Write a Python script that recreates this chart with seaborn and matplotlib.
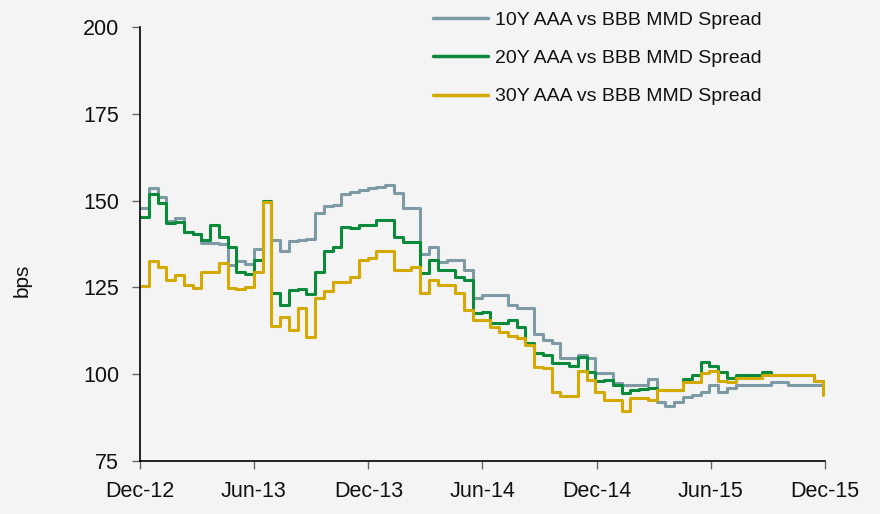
import numpy as np
import pandas as pd
import matplotlib
matplotlib.use("Agg")
import matplotlib.pyplot as plt
import matplotlib.dates as mdates
import seaborn as sns

# ---- data (bi-weekly samples) ----
start_date = "2012-12-01"
n_points = 79
series_names = ["10Y AAA vs BBB MMD Spread",
                "20Y AAA vs BBB MMD Spread",
                "30Y AAA vs BBB MMD Spread"]

spread_10y = [148, 153.7, 151, 144, 145, 141, 140.5, 137.8, 137.8, 137.5,
              131.4, 132.5, 131.8, 136, 149.5, 138.7, 135.5, 138.5, 138.7, 139,
              146.5, 148.5, 148.7, 152, 152.5, 153, 153.6, 154, 154.5, 152.2,
              148, 147.9, 134.5, 136.5, 132.3, 132.9, 132.9, 130, 122, 122.8,
              122.8, 122.8, 120, 119, 119, 111.5, 109.8, 109, 104.7, 104.7,
              105.5, 104.7, 100.3, 100.3, 97.5, 97, 97, 97, 98.5, 92,
              90.8, 92, 93.5, 94, 95, 97, 94.9, 96, 97, 97,
              97, 97, 97.8, 97.8, 97, 97, 97, 97, 95.5]

spread_20y = [145.3, 152, 149.3, 143.5, 143.8, 141, 140.5, 138.7, 143, 139.5,
              136.7, 129.4, 129, 133, 150, 123.4, 120, 124.3, 124.5, 123,
              129.5, 135.5, 136.5, 142.4, 142, 143, 143, 144.4, 144.4, 139.5,
              138, 138, 129.2, 132.9, 130, 130, 128, 127, 117.5, 117.8,
              114.7, 114.7, 115.6, 113.6, 109, 106, 105.5, 103.2, 103.2, 102.5,
              105, 100.5, 98, 98.3, 97, 94.6, 95.4, 95.8, 96, 95.4,
              95.4, 95.4, 98.5, 99.8, 103.5, 102.4, 100.6, 98.9, 99.8, 99.8,
              99.8, 100.6, 99.8, 99.8, 99.8, 99.8, 99.8, 98, 96.6]

spread_30y = [125.5, 132.5, 130.9, 127.1, 128.6, 125.7, 124.8, 129.4, 129.4, 132,
              124.8, 124.5, 125, 129.4, 149.6, 114, 116.5, 112.7, 119, 110.7,
              122, 124, 126.6, 126.6, 128, 133, 133.5, 135.5, 135.5, 130,
              130, 130.9, 123.4, 127, 125.7, 125.7, 123.4, 118.5, 115.6, 115.6,
              113.5, 112.2, 111, 110.4, 108.4, 102, 101.7, 94.9, 93.7, 93.7,
              101, 98.3, 94.9, 92.6, 92.6, 89.5, 93.1, 93.1, 92.6, 95.4,
              95.4, 95.4, 97.8, 97.8, 100.3, 101, 98, 97.8, 98.9, 98.9,
              98.9, 99.8, 99.8, 99.8, 99.8, 99.8, 99.8, 98, 94]

tick_dates = ["2012-12-01", "2013-06-01", "2013-12-01", "2014-06-01",
              "2014-12-01", "2015-06-01", "2015-12-01"]
tick_labels = ["Dec-12", "Jun-13", "Dec-13", "Jun-14", "Dec-14", "Jun-15", "Dec-15"]
y_ticks = [75, 100, 125, 150, 175, 200]

colors = ["#7d9aa5", "#0b8a3b", "#d4aa00"]

# ---- build long-form frame ----
dates = pd.date_range(start_date, periods=n_points, freq="14D")
frames = []
for name, vals in zip(series_names, [spread_10y, spread_20y, spread_30y]):
    frames.append(pd.DataFrame({"date": dates, "value": vals, "series": name}))
df = pd.concat(frames, ignore_index=True)

sns.set_theme(style="ticks")
plt.rcParams["font.family"] = ["Liberation Sans", "DejaVu Sans"]

bg = "#f4f4f4"
fig = plt.figure(figsize=(8.8, 5.14), dpi=100, facecolor=bg)
ax = fig.add_axes([140 / 880, 1 - 461 / 514, (825 - 140) / 880, (461 - 27) / 514])
ax.set_facecolor(bg)

sns.lineplot(data=df, x="date", y="value", hue="series", hue_order=series_names,
             palette=colors, linewidth=2.2, drawstyle="steps-post", ax=ax,
             legend=False)

ax.set_xlim(pd.Timestamp(tick_dates[0]), pd.Timestamp(tick_dates[-1]))
ax.set_ylim(75, 200)
ax.set_xticks([pd.Timestamp(d) for d in tick_dates])
ax.set_xticklabels(tick_labels)
ax.set_yticks(y_ticks)
ax.set_yticklabels([str(v) for v in y_ticks])
ax.tick_params(axis="both", labelsize=15.5, color="#666666", length=6, width=1,
               labelcolor="#111111")
ax.tick_params(axis="x", pad=8.5)
ax.tick_params(axis="y", pad=9)
ax.set_xlabel("")
ax.set_ylabel("")
for s in ["top", "right"]:
    ax.spines[s].set_visible(False)
for s in ["left", "bottom"]:
    ax.spines[s].set_color("black")
    ax.spines[s].set_linewidth(1.2)

fig.text(22 / 880, 1 - 280 / 514, "bps", rotation=90, fontsize=15,
         ha="center", va="center", color="#111111")

handles = [plt.Line2D([0], [0], color=c, linewidth=2.5) for c in colors]
leg = fig.legend(handles, series_names, loc="upper left",
                 bbox_to_anchor=(433 / 880, 1 - 11 / 514), frameon=False,
                 fontsize=14, handlelength=2.85, handletextpad=0.35,
                 labelspacing=1.07, borderpad=0, borderaxespad=0)
for t in leg.get_texts():
    t.set_color("#111111")

fig.savefig("out.png", dpi=100, facecolor=bg)
